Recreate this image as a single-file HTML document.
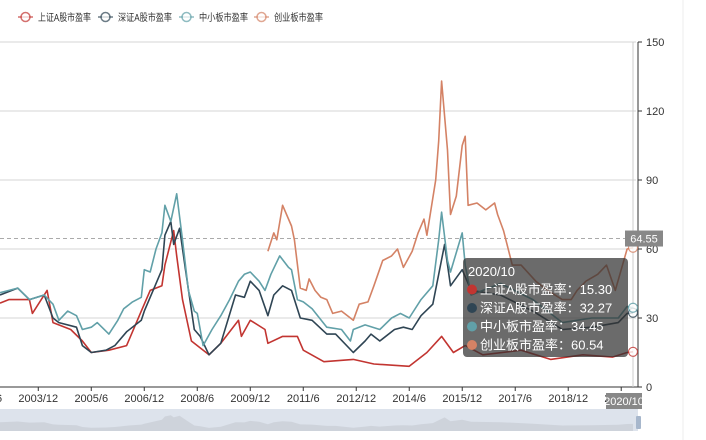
<!DOCTYPE html>
<html><head><meta charset="utf-8">
<style>
body{margin:0;background:#fff;font-family:"Liberation Sans","Noto Sans CJK SC",sans-serif;}
#wrap{position:relative;width:706px;height:440px;overflow:hidden;}
svg text{font-family:"Liberation Sans","Noto Sans CJK SC",sans-serif;}
</style></head>
<body>
<div id="wrap">
<svg id="chart" width="706" height="440" xmlns="http://www.w3.org/2000/svg"></svg>
</div>
<script>
const seriesNames = ["上证A股市盈率","深证A股市盈率","中小板市盈率","创业板市盈率"];
const seriesColors = ["#c23531","#2f4554","#61a0a8","#d48265"];
const yTicks = [0,30,60,90,120,150];
const xTickLabels = ["2002/6","2003/12","2005/6","2006/12","2008/6","2009/12","2011/6","2012/12","2014/6","2015/12","2017/6","2018/12","2020/6"];
const markLineValue = 64.55;
const tooltipDate = "2020/10";

const shDates = ["2002/11","2003/2","2003/9","2003/10","2004/3","2004/5","2004/11","2005/3","2005/6","2005/12","2006/6","2006/11","2007/2","2007/6","2007/7","2007/10","2007/11","2008/1","2008/4","2008/6","2008/10","2009/2","2009/8","2009/9","2009/12","2010/5","2010/6","2010/11","2011/4","2011/6","2012/1","2012/11","2013/6","2014/6","2014/12","2015/5","2015/9","2016/1","2016/7","2017/8","2018/6","2019/5","2020/3","2020/8","2020/10"];
const shValues = [36.5,38,38,32,42,28,25,20,15,16,18,33,42,44,53,68,57,38,20,18,14,19,29,22,29,25,19,22,22,16,11,12,10,9,15,22,15,18,14,16,12,14,13,15,15.30];

const szDates = ["2002/11","2003/5","2003/9","2004/2","2004/5","2004/7","2005/1","2005/3","2005/6","2005/11","2006/2","2006/6","2006/11","2006/12","2007/3","2007/6","2007/7","2007/9","2007/10","2007/12","2008/2","2008/5","2008/7","2008/10","2009/2","2009/7","2009/10","2009/12","2010/3","2010/6","2010/8","2010/11","2011/2","2011/5","2011/9","2012/2","2012/5","2012/11","2013/3","2013/5","2013/8","2014/1","2014/4","2014/7","2014/10","2015/2","2015/6","2015/8","2015/12","2016/3","2017/1","2017/12","2018/10","2019/8","2020/5","2020/8","2020/10"];
const szValues = [40,43,38,40,30,28,26,18,15,16,18,24,29,33,42,51,66,72,62,69,51,25,22,14,19,40,39,46,42,31,40,44,42,30,29,23,23,15,20,23,20,25,26,25,31,36,62,44,51,42,40,33,25,26,28,32,32.27];

const zxbDates = ["2002/11","2003/5","2003/9","2004/2","2004/5","2004/7","2004/10","2005/1","2005/3","2005/6","2005/8","2005/12","2006/3","2006/5","2006/8","2006/11","2006/12","2007/2","2007/4","2007/6","2007/7","2007/9","2007/11","2008/1","2008/3","2008/5","2008/6","2008/8","2008/11","2009/2","2009/5","2009/8","2009/10","2009/12","2010/3","2010/5","2010/7","2010/10","2011/1","2011/2","2011/4","2011/6","2011/9","2012/2","2012/7","2012/10","2012/11","2013/3","2013/8","2013/12","2014/3","2014/6","2014/10","2015/2","2015/4","2015/5","2015/7","2015/8","2015/12","2016/1","2016/3","2017/1","2017/12","2018/10","2019/8","2020/5","2020/8","2020/10"];
const zxbValues = [41,43,38,40,36,29,33,31,25,26,28,23,29,34,37,39,51,50,60,67,79,72,84,64,42,33,32,18,25,31,38,46,49,50,46,42,49,57,52,51,38,37,34,26,25,20,25,27,25,30,32,30,38,44,64,76,55,50,67,53,40,45,38,28,30,30,35,34.45];

const cybDates = ["2010/6","2010/8","2010/9","2010/11","2011/2","2011/3","2011/5","2011/7","2011/8","2011/10","2011/12","2012/2","2012/4","2012/7","2012/11","2013/1","2013/4","2013/6","2013/9","2013/12","2014/2","2014/4","2014/7","2014/9","2014/11","2014/12","2015/3","2015/4","2015/5","2015/7","2015/8","2015/10","2015/12","2016/1","2016/2","2016/5","2016/8","2016/11","2016/12","2017/2","2017/5","2017/8","2018/1","2018/5","2018/10","2019/1","2019/3","2019/6","2019/10","2020/1","2020/4","2020/6","2020/8","2020/10"];
const cybValues = [59,67,64,79,70,64,43,42,47,42,39,38,32,33,29,36,37,44,55,57,60,52,59,67,73,66,90,107,133,103,75,83,105,109,79,80,77,80,75,68,53,53,46,42,38,38,42,46,49,53,42,51,60,60.54];

const NS="http://www.w3.org/2000/svg";
const svg=document.getElementById('chart');
const plotL=0, plotR=638, plotTop=42, plotBot=387, yMax=150;
const endIdx=215, endX=633;
function monthIdx(s){const p=s.split('/');return (parseInt(p[0])-2002)*12+(parseInt(p[1])-11);}
function xScale(s){return monthIdx(s)*endX/endIdx;}
function yScale(v){return plotBot-(v/yMax)*(plotBot-plotTop);}
function mk(tag,attrs,parent){const e=document.createElementNS(NS,tag);for(const k in attrs)e.setAttribute(k,attrs[k]);(parent||svg).appendChild(e);return e;}

let b=mk('line',{x1:683,y1:0,x2:683,y2:440,stroke:'#eee'});



yTicks.forEach(v=>{
  const y=yScale(v);
  if(v>0){const g=mk('line',{x1:0,y1:y,x2:636,y2:y,stroke:'#d6d6d6','stroke-width':1});
  
  }
  const t=mk('line',{x1:plotR,y1:y,x2:plotR+4,y2:y,stroke:'#333'});
  
  
  const tx=mk('text',{x:plotR+8,y:y+4,'font-size':11,fill:'#333'});tx.textContent=v;
  
  
});
let ax=mk('line',{x1:plotR,y1:plotTop,x2:plotR,y2:plotBot,stroke:'#333'});


let xax=mk('line',{x1:0,y1:plotBot,x2:plotR,y2:plotBot,stroke:'#333'});


let ap=mk('line',{x1:endX,y1:plotTop,x2:endX,y2:plotBot,stroke:'#ccc'});



xTickLabels.forEach(l=>{
  const x=xScale(l);
  const t=mk('line',{x1:x,y1:plotBot,x2:x,y2:plotBot+4,stroke:'#333'});
  
  
  const tx=mk('text',{x:x,y:plotBot+15,'font-size':11,fill:'#333','text-anchor':'middle'});tx.textContent=l;
  
  
});

const my=yScale(markLineValue);
let ml=mk('line',{x1:0,y1:my,x2:626,y2:my,stroke:'#aaa','stroke-dasharray':'4,3'});



const allDates=[shDates,szDates,zxbDates,cybDates];
const allValues=[shValues,szValues,zxbValues,cybValues];
allDates.forEach((ds,i)=>{
  const vs=allValues[i];
  const d=ds.map((s,j)=>(j?'L':'M')+xScale(s).toFixed(1)+','+yScale(vs[j]).toFixed(1)).join(' ');
  const p=mk('path',{d:d,fill:'none',stroke:seriesColors[i],'stroke-width':1.6,'stroke-linejoin':'round'});
  
  
  const n=ds.length-1;
  const c=mk('circle',{cx:xScale(ds[n]),cy:yScale(vs[n]),r:4.5,fill:'#fff',stroke:seriesColors[i],'stroke-width':1.2,opacity:0.8});
  
  
});

let mlb=mk('rect',{x:625,y:my-8,width:38,height:16,fill:'#888'});


let mlt=mk('text',{x:644,y:my+4,'font-size':11,fill:'#fff','text-anchor':'middle'});mlt.textContent=markLineValue.toFixed(2);



let xb=mk('rect',{x:606,y:393,width:36,height:16,fill:'#888'});


let xt=mk('text',{x:624,y:405,'font-size':11,fill:'#fff','text-anchor':'middle'});xt.textContent=tooltipDate;



let dz=mk('rect',{x:0,y:409,width:638,height:22,fill:'#dde3ec'});


const dzd='M0,431 '+szDates.map((s,j)=>'L'+xScale(s).toFixed(1)+','+(431-szValues[j]*0.22).toFixed(1)).join(' ')+' L'+endX+',431 Z';
let dza=mk('path',{d:dzd,fill:'#c8ccd4',opacity:0.7});


let dh=mk('rect',{x:636,y:416,width:5,height:13,fill:'#a7b7cc',rx:1});



const lx=[18,98,179,254];
const lw=[53,54,49,49];
seriesNames.forEach((n,i)=>{
  const g=mk('g',{});
  
  
  mk('line',{x1:lx[i],y1:17,x2:lx[i]+15,y2:17,stroke:seriesColors[i],'stroke-width':1.5,opacity:0.7},g);
  mk('circle',{cx:lx[i]+7.5,cy:17,r:4.5,fill:'#fff',stroke:seriesColors[i],'stroke-width':1.5,opacity:0.7},g);
  const t=mk('text',{x:lx[i]+20,y:21,'font-size':10,fill:'#333',textLength:lw[i],lengthAdjust:'spacingAndGlyphs'},g);t.textContent=n;
});

const tg=mk('g',{});


mk('rect',{x:463,y:258,width:165,height:99,rx:4,fill:'rgba(50,50,50,0.72)'},tg);
let tt=mk('text',{x:468,y:276,'font-size':13,fill:'#fff'},tg);tt.textContent=tooltipDate;
allValues.forEach((vs,i)=>{
  const y=294+i*18.5;
  mk('circle',{cx:472,cy:y-4.5,r:5,fill:seriesColors[i]},tg);
  const t=mk('text',{x:480,y:y,'font-size':13,fill:'#fff'},tg);
  t.textContent=seriesNames[i]+'：'+vs[vs.length-1].toFixed(2);
});
</script>
</body></html>
